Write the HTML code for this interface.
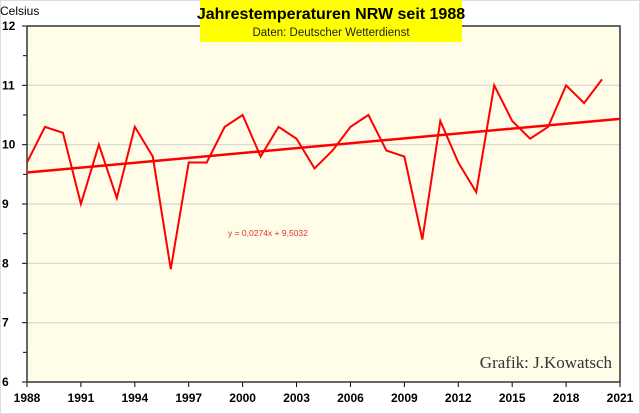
<!DOCTYPE html>
<html><head><meta charset="utf-8"><style>
body{margin:0;background:#fff}
svg{display:block;font-family:"Liberation Sans",sans-serif}
</style></head><body>
<svg id="c" width="640" height="414" viewBox="0 0 640 414">
<rect x="0" y="0" width="640" height="414" fill="#fff" stroke="#ddd" stroke-width="2"/>
<rect x="27" y="26" width="593" height="356" fill="#fffde8"/>
<g id="grid"></g>
<g id="axes"></g>
<polyline id="line" fill="none" stroke="#ff0000" stroke-width="2"/>
<line id="trend" stroke="#ff0000" stroke-width="2.5"/>
<text x="0" y="15" font-size="12" fill="#000">Celsius</text>
<rect x="200" y="0" width="262" height="42" fill="#ffff00"/>
<text x="331" y="19" font-size="16" font-weight="bold" text-anchor="middle">Jahrestemperaturen NRW seit 1988</text>
<text x="331" y="36" font-size="11.5" text-anchor="middle" fill="#222">Daten: Deutscher  Wetterdienst</text>
<text x="228" y="236" font-size="8.5" fill="#e03030">y = 0,0274x + 9,5032</text>
<text x="612" y="368" font-size="17" text-anchor="end" fill="#333" font-family="Liberation Serif,serif">Grafik:  J.Kowatsch</text>
</svg>
<script>
const years=[1988,1989,1990,1991,1992,1993,1994,1995,1996,1997,1998,1999,2000,2001,2002,2003,2004,2005,2006,2007,2008,2009,2010,2011,2012,2013,2014,2015,2016,2017,2018,2019,2020];
const temps=[9.7,10.3,10.2,9.0,10.0,9.1,10.3,9.8,7.9,9.7,9.7,10.3,10.5,9.8,10.3,10.1,9.6,9.9,10.3,10.5,9.9,9.8,8.4,10.4,9.7,9.2,11.0,10.4,10.1,10.3,11.0,10.7,11.1];
const xTicks=[1988,1991,1994,1997,2000,2003,2006,2009,2012,2015,2018,2021];
const yTicks=[6,7,8,9,10,11,12];
const trendSlope=0.0274, trendIntercept=9.5032;
const X=v=>27+(v-1988)*593/33;
const Y=v=>382-(v-6)*356/6;
const NS='http://www.w3.org/2000/svg';
const grid=document.getElementById('grid'),axes=document.getElementById('axes');
function mk(tag,attrs,parent){const e=document.createElementNS(NS,tag);for(const k in attrs)e.setAttribute(k,attrs[k]);parent.appendChild(e);return e;}
yTicks.forEach(t=>{
 if(t>6&&t<12){const g=mk('line',{x1:27,x2:620,y1:Y(t),y2:Y(t),stroke:'#d4d4d4','stroke-width':1.2},grid);
 
 }
 const tk=mk('line',{x1:22,x2:27,y1:Y(t),y2:Y(t),stroke:'#000','stroke-width':1},axes);
 
 
 if(t<12){const m=mk('line',{x1:23,x2:27,y1:Y(t+0.5),y2:Y(t+0.5),stroke:'#000','stroke-width':1},axes);
 
 }
 const l=mk('text',{x:2,y:Y(t)+4,'font-size':12,'font-weight':'bold'},axes);l.textContent=t;
 
 
});
xTicks.forEach(t=>{
 const tk=mk('line',{x1:X(t),x2:X(t),y1:382,y2:387,stroke:'#000','stroke-width':1},axes);
 
 
 const l=mk('text',{x:X(t),y:402,'font-size':12,'font-weight':'bold','text-anchor':'middle'},axes);l.textContent=t;
 
 
});
const ax=mk('path',{d:'M27 26V382H620V26H27',fill:'none',stroke:'#333','stroke-width':1.5},axes);


document.getElementById('line').setAttribute('points',years.map((y,i)=>X(y)+','+Y(temps[i])).join(' '));
const tr=document.getElementById('trend');
tr.setAttribute('x1',X(1988));tr.setAttribute('y1',Y(trendIntercept+trendSlope));
tr.setAttribute('x2',X(2021));tr.setAttribute('y2',Y(trendIntercept+trendSlope*34));
</script>
</body></html>
